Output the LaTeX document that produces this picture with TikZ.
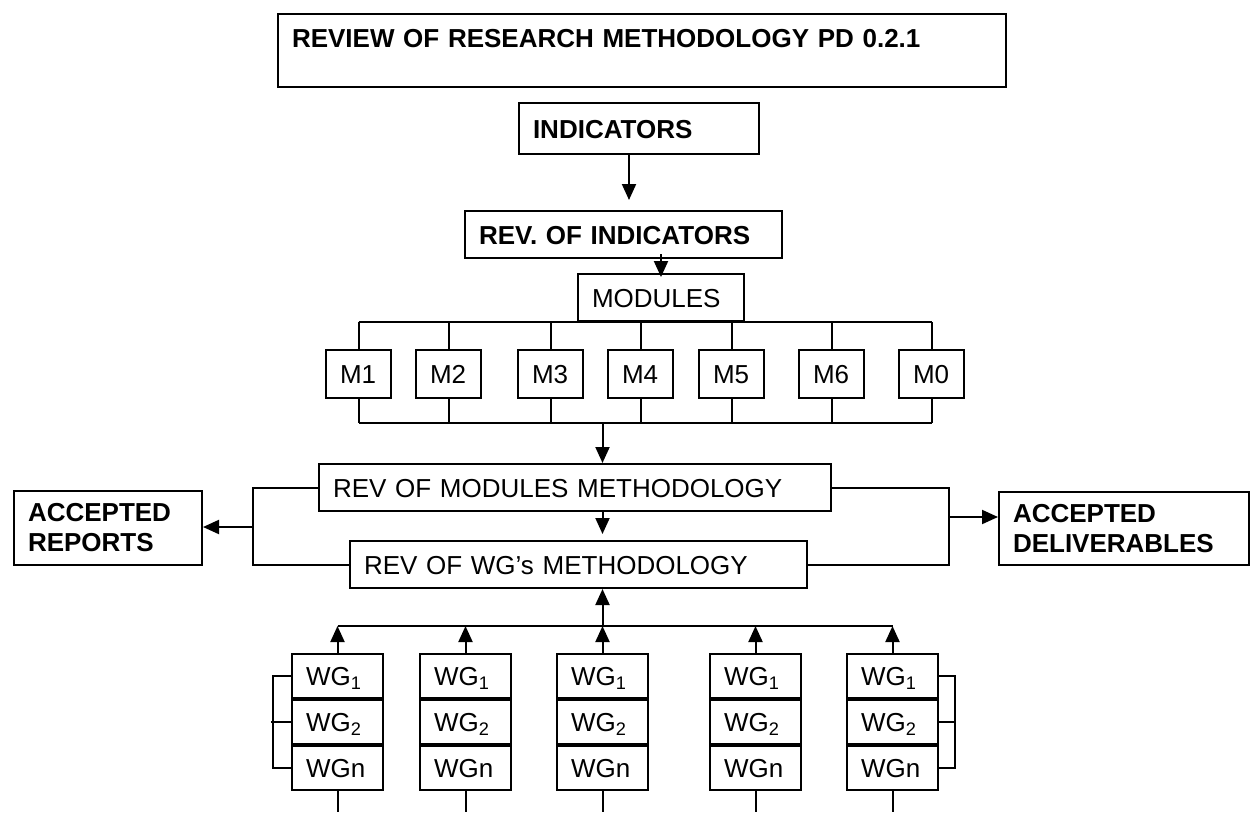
\documentclass[tikz,border=0pt]{standalone}
\usepackage{fontspec}
\setmainfont{Liberation Sans}
\usepackage{tikz}
\usetikzlibrary{positioning, arrows.meta, calc}
\tikzstyle{bx}=[%
      rectangle, draw=black, line width=2pt, anchor=north west,
      inner xsep=14pt, inner ysep=0pt, text height=19pt, text depth=0pt,
      align=left, font=\fontsize{26}{30}\selectfont
]
\tikzstyle{bb}=[%
      bx, font=\fontsize{26}{30}\selectfont\bfseries
]
\tikzstyle{ac}=[%
      rectangle, draw=black, line width=2pt, anchor=north west,
      inner xsep=14pt, inner ysep=0pt, align=left,
      font=\fontsize{26}{30}\selectfont\bfseries
]
\tikzstyle{wg}=[%
      bx, minimum width=91pt, text width=63pt, minimum height=44pt
]
\tikzstyle{mm}=[%
      bx, minimum width=65pt, text width=37pt, minimum height=48pt
]

\begin{document}
\begin{tikzpicture}[x=1pt, y=-1pt, line width=2pt,
    >={Triangle[length=16pt,width=14pt]}
  ]
    \useasboundingbox (0,0) rectangle (1256,812);

    \node[bb, text depth=26pt, inner ysep=14pt, minimum width=728pt, text width=700pt]
                (title) at (277,13)  {REVIEW OF RESEARCH METHODOLOGY PD 0.2.1};
    \node[bb, minimum width=240pt, text width=212pt, minimum height=51pt]
                (ind)   at (518,102) {INDICATORS};
    \node[bb, minimum width=317pt, text width=289pt, minimum height=47pt]
                (rind)  at (464,210) {REV. OF INDICATORS};
    \node[bx, minimum width=166pt, text width=138pt, minimum height=47pt]
                (mod)   at (577,273) {MODULES};

    \foreach \m/\x in {1/325, 2/415, 3/517, 4/607, 5/698, 6/798, 0/898}
      \node[mm] (m\m) at (\x,349) {M\m};

    \node[bx, minimum width=512pt, text width=484pt, minimum height=47pt]
                (rmod)  at (318,463) {REV OF MODULES METHODOLOGY};
    \node[bx, minimum width=457pt, text width=429pt, minimum height=47pt]
                (rwg)   at (349,540) {REV OF WG’s METHODOLOGY};
    \node[ac, minimum width=188pt, text width=160pt, minimum height=74pt]
                (arep)  at (13,490)  {ACCEPTED\\REPORTS};
    \node[ac, minimum width=250pt, text width=222pt, minimum height=73pt]
                (adel)  at (998,491) {ACCEPTED\\DELIVERABLES};

    % working groups
    \foreach \i/\x in {1/291, 2/419, 3/556, 4/709, 5/846} {
      \node[wg] (wa\i) at (\x,653) {WG\textsubscript{1}};
      \node[wg, below=0pt of wa\i] (wb\i) {WG\textsubscript{2}};
      \node[wg, below=0pt of wb\i] (wn\i) {WGn};
    }

    \coordinate (busbot) at (0,423);
    \coordinate (buswg)  at (0,626);
    \coordinate (lb)     at (253,527);
    \coordinate (rb)     at (949,517);
    \coordinate (lbr)    at (273,0);
    \coordinate (rbr)    at (955,0);
    \coordinate (bottom) at (0,812);

    \draw[->, shorten >=10pt] ([xshift=-10pt]ind.south) -- ([xshift=-10pt]ind.south |- rind.north);
    \draw[->, shorten >=-4pt] ([yshift=5pt]rind.south -| mod.north) -- (mod.north);

    % modules bus
    \foreach \m in {1,2,3,4,5,6,0} {
      \draw (m\m.north) -- (m\m.north |- mod.south);
      \draw (m\m.south) -- (m\m.south |- busbot);
    }
    \draw (m1.north |- mod.south) -- (m0.north |- mod.south);
    \draw (m1.south |- busbot) -- (m0.south |- busbot);

    \draw[->] (wa3.north |- busbot) -- (wa3.north |- rmod.north);
    \draw[->, shorten >=6pt] (wa3.north |- rmod.south) -- (wa3.north |- rwg.north);

    % accepted outputs
    \draw (rmod.west) -| (lb) |- (rwg.west);
    \draw[->] (lb) -- (lb -| arep.east);
    \draw (rmod.east) -| (rb) |- (rwg.east);
    \draw[->] (rb) -- (rb -| adel.west);

    % wg bus
    \foreach \i in {1,...,5} {
      \draw[->] (wa\i.north) -- (wa\i.north |- buswg);
      \draw (wn\i.south) -- (wn\i.south |- bottom);
    }
    \draw (wa1.north |- buswg) -- (wa5.north |- buswg);
    \draw[->] (wa3.north |- buswg) -- (wa3.north |- rwg.south);

    \draw (wa1.west) -- (wa1.west -| lbr) -- (wn1.west -| lbr) -- (wn1.west);
    \draw ([xshift=-2pt]wb1.west -| lbr) -- (wb1.west);
    \draw (wa5.east) -- (wa5.east -| rbr) -- (wn5.east -| rbr) -- (wn5.east);
    \draw (wb5.east) -- (wb5.east -| rbr);

\end{tikzpicture}
\end{document}
